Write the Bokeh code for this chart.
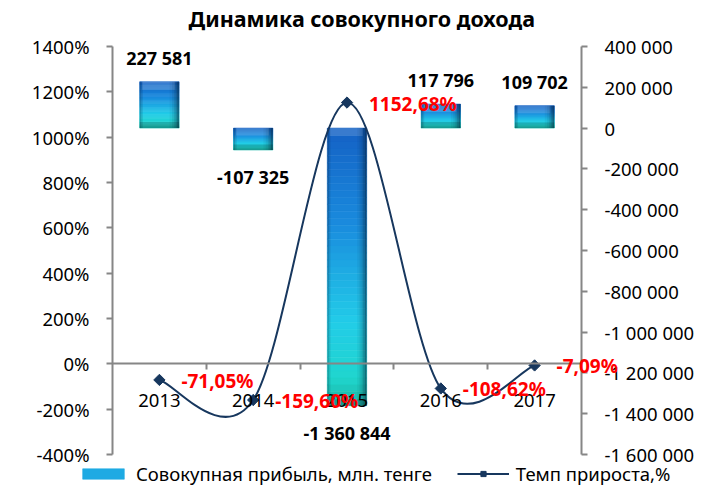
import numpy as np
from bokeh.plotting import figure
from bokeh.models import (Range1d, LinearAxis, FixedTicker, Legend, LegendItem,
                          ColumnDataSource, LabelSet)
from bokeh.core.properties import value
from bokeh.embed import file_html
from bokeh.resources import INLINE

# ---------------- data ----------------
years = ["2013", "2014", "2015", "2016", "2017"]
profit = [227581, -107325, -1360844, 117796, 109702]      # Совокупная прибыль, млн. тенге
growth = [-71.05, -159.60, 1152.68, -108.62, -7.09]        # Темп прироста, %

left_ticks = [-400, -200, 0, 200, 400, 600, 800, 1000, 1200, 1400]
left_tick_labels = ["-400%", "-200%", "0%", "200%", "400%", "600%", "800%",
                    "1000%", "1200%", "1400%"]
right_ticks = [-1600000, -1400000, -1200000, -1000000, -800000, -600000,
               -400000, -200000, 0, 200000, 400000]
right_tick_labels = ["-1 600 000", "-1 400 000", "-1 200 000", "-1 000 000",
                     "-800 000", "-600 000", "-400 000", "-200 000", "0",
                     "200 000", "400 000"]

title_text = "Динамика совокупного дохода"
bar_name = "Совокупная прибыль, млн. тенге"
line_name = "Темп прироста,%"

# ---------------- style / layout ----------------
FONT = "Noto Sans"
AXIS_GRAY = "#868686"
LINE_COLOR = "#17375E"
BAR_W = 0.42
TXT = "18.5px"

FIG_W = 697           # whole drawing area is the frame (axes are drawn at fixed locations)
TOP = 33              # room for the title
FRAME_H = 453
PLOT_L, PLOT_W = 112, 469     # axes box inside the frame (px)
PLOT_T, PLOT_H = 13, 408

n = len(years)
xc = [i + 0.5 for i in range(n)]

ux = n / PLOT_W
x_rng = Range1d(-PLOT_L * ux, (FIG_W - PLOT_L) * ux)
lpx = (left_ticks[-1] - left_ticks[0]) / PLOT_H
y_rng = Range1d(left_ticks[-1] - (FRAME_H - PLOT_T) * lpx, left_ticks[-1] + PLOT_T * lpx)
rpx = (right_ticks[-1] - right_ticks[0]) / PLOT_H
r_rng = Range1d(right_ticks[-1] - (FRAME_H - PLOT_T) * rpx, right_ticks[-1] + PLOT_T * rpx)

p = figure(frame_width=FIG_W, frame_height=FRAME_H, output_backend="svg",
           toolbar_location=None, x_range=x_rng, y_range=y_rng,
           x_axis_type=None, y_axis_type=None,
           min_border_left=0, min_border_right=0,
           min_border_top=TOP, min_border_bottom=0,
           title=title_text)
p.extra_y_ranges = {"right": r_rng}
p.outline_line_color = None
p.background_fill_color = "white"
p.border_fill_color = "white"

p.title.text_font = FONT
p.title.text_font_size = "21.5px"
p.title.text_font_style = "bold"
p.title.align = "left"
p.title.offset = 188
p.title.standoff = 2
p.title.text_color = "black"

# ---------------- gradient bars ----------------
stops = [(0.0, (20, 96, 196)), (0.35, (26, 140, 222)), (0.7, (34, 204, 232)),
         (0.9, (32, 214, 206)), (1.0, (26, 180, 164))]


def grad(t):
    for (t0, c0), (t1, c1) in zip(stops[:-1], stops[1:]):
        if t <= t1:
            f = (t - t0) / (t1 - t0)
            c = [int(round(a + (b - a) * f)) for a, b in zip(c0, c1)]
            return "#%02x%02x%02x" % tuple(c)
    return "#%02x%02x%02x" % stops[-1][1]


NS = 40
sl = dict(left=[], right=[], top=[], bottom=[], color=[])
for xi, v in zip(xc, profit):
    top, bot = max(v, 0), min(v, 0)
    h = top - bot
    for k in range(NS):
        sl["left"].append(xi - BAR_W / 2)
        sl["right"].append(xi + BAR_W / 2)
        sl["top"].append(top - h * k / NS)
        sl["bottom"].append(top - h * (k + 1) / NS)
        sl["color"].append(grad((k + 0.5) / NS))
bar_src = ColumnDataSource(sl)
bar_r = p.quad(left="left", right="right", top="top", bottom="bottom",
               fill_color="color", line_color="color", line_width=0.6,
               source=bar_src, y_range_name="right")

# bevel: light top band, darker bottom band, darker side edges
bev = dict(left=[], right=[], top=[], bottom=[], color=[], alpha=[])
for xi, v in zip(xc, profit):
    top, bot = max(v, 0), min(v, 0)
    h = top - bot
    tb = min(8 * rpx, h / 3)
    bb = min(6 * rpx, h / 4)
    bev["left"] += [xi - BAR_W / 2 + BAR_W * 0.06, xi - BAR_W / 2]
    bev["right"] += [xi + BAR_W / 2 - BAR_W * 0.1, xi + BAR_W / 2]
    bev["top"] += [top, bot + bb]
    bev["bottom"] += [top - tb, bot]
    bev["color"] += ["#ffffff", "#04323a"]
    bev["alpha"] += [0.16, 0.22]
p.quad(left="left", right="right", top="top", bottom="bottom",
       fill_color="color", fill_alpha="alpha", line_color=None,
       source=ColumnDataSource(bev), y_range_name="right")

sh = dict(left=[], right=[], top=[], bottom=[], alpha=[])
edge_fracs = [(0.76, 0.82, 0.06), (0.82, 0.87, 0.14), (0.87, 0.91, 0.25),
              (0.91, 0.95, 0.38), (0.95, 1.0, 0.55), (0.0, 0.04, 0.28),
              (0.04, 0.08, 0.12)]
for xi, v in zip(xc, profit):
    top, bot = max(v, 0), min(v, 0)
    for f0, f1, a in edge_fracs:
        sh["left"].append(xi - BAR_W / 2 + BAR_W * f0)
        sh["right"].append(xi - BAR_W / 2 + BAR_W * f1)
        sh["top"].append(top)
        sh["bottom"].append(bot)
        sh["alpha"].append(a)
p.quad(left="left", right="right", top="top", bottom="bottom",
       fill_color="#021a30", fill_alpha="alpha", line_color=None,
       source=ColumnDataSource(sh), y_range_name="right")

# ---------------- smooth line (bezier through data points) ----------------
pts = list(zip(xc, growth))
ext = [pts[0]] + pts + [pts[-1]]
bz = dict(x0=[], y0=[], x1=[], y1=[], cx0=[], cy0=[], cx1=[], cy1=[])
for i in range(n - 1):
    p0, p1, p2, p3 = ext[i], ext[i + 1], ext[i + 2], ext[i + 3]
    bz["x0"].append(p1[0]); bz["y0"].append(p1[1])
    bz["x1"].append(p2[0]); bz["y1"].append(p2[1])
    bz["cx0"].append(p1[0] + (p2[0] - p0[0]) / 6)
    bz["cy0"].append(p1[1] + (p2[1] - p0[1]) / 6)
    bz["cx1"].append(p2[0] - (p3[0] - p1[0]) / 6)
    bz["cy1"].append(p2[1] - (p3[1] - p1[1]) / 6)
bez_r = p.bezier(x0="x0", y0="y0", x1="x1", y1="y1", cx0="cx0", cy0="cy0",
                 cx1="cx1", cy1="cy1", line_color=LINE_COLOR, line_width=2,
                 source=ColumnDataSource(bz))
sc_r = p.scatter(xc, growth, marker="square", angle=np.pi / 4, size=8,
                 fill_color=LINE_COLOR, line_color=LINE_COLOR)

# ---------------- labels ----------------
bar_labels = [f"{v:,}".replace(",", " ") for v in profit]
bar_off = [24 if v >= 0 else -27 for v in profit]
p.add_layout(LabelSet(
    x="x", y="y", text="t", y_offset="o", y_range_name="right",
    source=ColumnDataSource(dict(x=xc, y=profit, t=bar_labels, o=bar_off)),
    text_align="center", text_baseline="middle",
    text_font=value(FONT), text_font_style="bold", text_font_size="18px",
    text_color="black"))

pct_labels = [f"{v:.2f}".replace(".", ",") + "%" for v in growth]
p.add_layout(LabelSet(
    x="x", y="y", text="t", x_offset=22, y_offset=-1,
    source=ColumnDataSource(dict(x=xc, y=growth, t=pct_labels)),
    text_align="left", text_baseline="middle",
    text_font=value(FONT), text_font_style="bold", text_font_size="19px",
    text_color="#FF0000"))

# ---------------- axes (drawn at fixed locations inside the frame) ----------------
def style_axis(ax):
    ax.axis_line_color = AXIS_GRAY
    ax.axis_line_width = 2
    ax.major_tick_line_color = AXIS_GRAY
    ax.major_tick_line_width = 2
    ax.major_tick_out = 6
    ax.major_tick_in = 0
    ax.minor_tick_line_color = None
    ax.major_label_text_font = FONT
    ax.major_label_text_font_size = TXT
    ax.major_label_text_color = "black"


left_ax = LinearAxis(ticker=FixedTicker(ticks=left_ticks), fixed_location=0,
                     bounds=(left_ticks[0], left_ticks[-1]),
                     major_label_overrides=dict(zip(left_ticks, left_tick_labels)))
style_axis(left_ax)
left_ax.major_label_standoff = 17
p.add_layout(left_ax, "left")

right_ax = LinearAxis(y_range_name="right", ticker=FixedTicker(ticks=right_ticks),
                      fixed_location=n, bounds=(right_ticks[0], right_ticks[-1]),
                      major_label_overrides=dict(zip(right_ticks, right_tick_labels)))
style_axis(right_ax)
right_ax.major_label_standoff = 17
p.add_layout(right_ax, "right")

bounds = list(range(1, n))
cat_line = LinearAxis(ticker=FixedTicker(ticks=bounds), fixed_location=0,
                      bounds=(0, n),
                      major_label_overrides={b: "" for b in bounds})
style_axis(cat_line)
p.add_layout(cat_line, "below")

cat_lab = LinearAxis(ticker=FixedTicker(ticks=xc), fixed_location=0,
                     major_label_overrides=dict(zip(xc, years)))
style_axis(cat_lab)
cat_lab.axis_line_color = None
cat_lab.major_tick_line_color = None
cat_lab.major_tick_out = 0
cat_lab.major_label_standoff = 30
p.add_layout(cat_lab, "below")

# ---------------- legend ----------------
legend = Legend(items=[
    LegendItem(label=bar_name, renderers=[bar_r], index=NS // 2),
    LegendItem(label=line_name, renderers=[bez_r, sc_r]),
], orientation="horizontal", location=(77, 0),
    glyph_width=52, glyph_height=13, label_height=16, label_standoff=7, spacing=25,
    label_text_font=FONT, label_text_font_size=TXT, label_text_color="black",
    border_line_color=None, background_fill_alpha=0, padding=0, margin=0)
p.add_layout(legend, "center")

open("out.html", "w").write(file_html(p, INLINE))
